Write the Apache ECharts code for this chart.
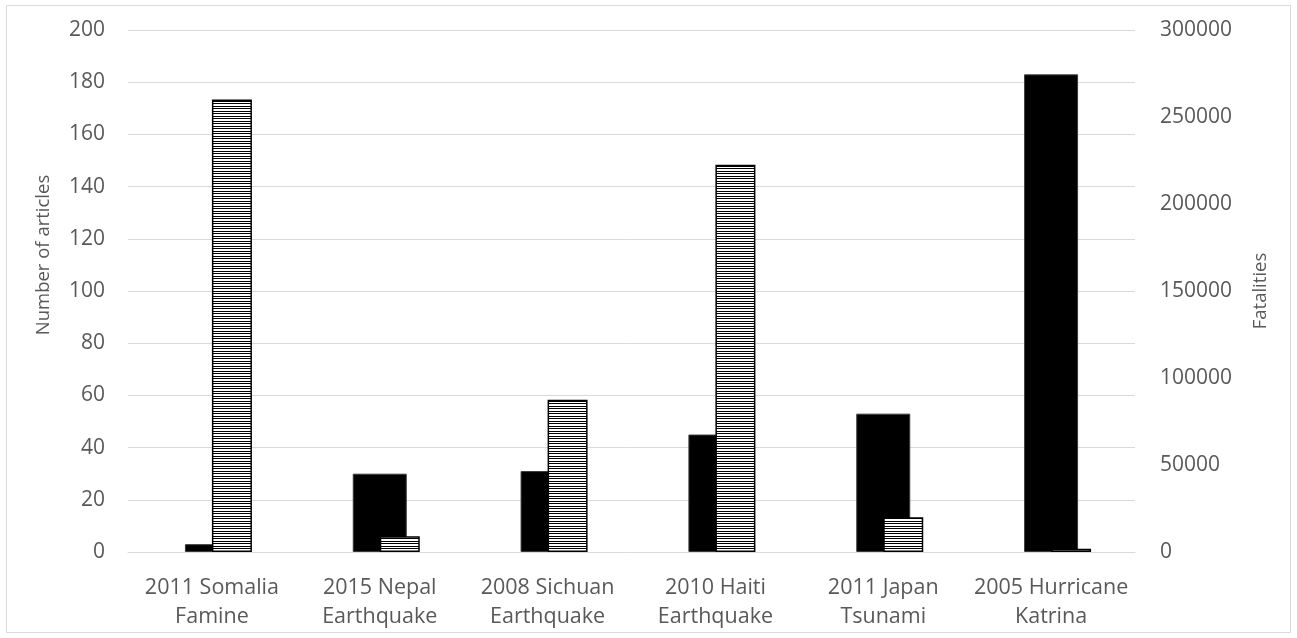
<!DOCTYPE html>
<html>
<head>
<meta charset="utf-8">
<script src="https://cdn.jsdelivr.net/npm/echarts@6/dist/echarts.min.js"></script>
<style>
  html, body { margin: 0; padding: 0; background: #ffffff; }
  #chart { width: 1297px; height: 638px; }
</style>
</head>
<body>
<div id="chart"></div>
<script>
// Disaster events, article counts (left axis) and fatalities (right axis)
const categories = [
  '2011 Somalia\nFamine',
  '2015 Nepal\nEarthquake',
  '2008 Sichuan\nEarthquake',
  '2010 Haiti\nEarthquake',
  '2011 Japan\nTsunami',
  '2005 Hurricane\nKatrina'
];
const articles = [3, 30, 31, 45, 53, 183];
const fatalities = [260000, 9000, 87500, 222500, 20000, 1800];
const articleTicks = { min: 0, max: 200, interval: 20 };
const fatalityTicks = { min: 0, max: 300000, interval: 50000 };

// Horizontal hatch fill for the fatalities bars
function hatchPattern() {
  const c = document.createElement('canvas');
  c.width = 4; c.height = 5;
  const ctx = c.getContext('2d');
  ctx.fillStyle = '#ffffff';
  ctx.fillRect(0, 0, 4, 5);
  ctx.fillStyle = '#000000';
  ctx.fillRect(0, 1, 4, 1);
  ctx.fillRect(0, 3, 4, 1);
  return c;
}

const FONT = '"Open Sans", "Liberation Sans", sans-serif';
const TEXT = '#595959';
const GRID = '#d9d9d9';

const chart = echarts.init(document.getElementById('chart'), null, { renderer: 'canvas' });
chart.setOption({
  animation: false,
  backgroundColor: '#ffffff',
  textStyle: { fontFamily: FONT },
  graphic: [{
    type: 'rect',
    shape: { x: 6.5, y: 5.5, width: 1284, height: 627 },
    style: { fill: 'none', stroke: GRID, lineWidth: 1 },
    silent: true
  }],
  grid: { left: 128, right: 162, top: 30, bottom: 86 },
  xAxis: [{
    type: 'category',
    data: categories,
    axisLine: { lineStyle: { color: GRID, width: 1 } },
    axisTick: { show: false },
    axisLabel: { color: TEXT, fontSize: 21.5, fontFamily: FONT, lineHeight: 29, margin: 21, interval: 0 }
  }, {
    type: 'category',
    data: categories,
    show: false
  }],
  yAxis: [{
    type: 'value',
    min: articleTicks.min, max: articleTicks.max, interval: articleTicks.interval,
    name: 'Number of articles',
    nameLocation: 'middle',
    nameRotate: 90,
    nameGap: 75,
    nameTextStyle: { color: TEXT, fontSize: 18.5, fontFamily: FONT, padding: [0, 0, 0, 72] },
    axisLine: { show: false },
    axisTick: { show: false },
    axisLabel: { color: TEXT, fontSize: 21, fontFamily: FONT, margin: 23 },
    splitLine: { lineStyle: { color: GRID, width: 1 } }
  }, {
    type: 'value',
    position: 'right',
    min: fatalityTicks.min, max: fatalityTicks.max, interval: fatalityTicks.interval,
    name: 'Fatalities',
    nameLocation: 'middle',
    nameRotate: 90,
    nameGap: 116,
    nameTextStyle: { color: TEXT, fontSize: 18.5, fontFamily: FONT },
    axisLine: { show: false },
    axisTick: { show: false },
    axisLabel: { color: TEXT, fontSize: 21, fontFamily: FONT, margin: 25, formatter: v => String(v) },
    splitLine: { show: false }
  }],
  series: [{
    name: 'Number of articles',
    type: 'bar',
    xAxisIndex: 0,
    yAxisIndex: 0,
    barWidth: 54,
    data: articles,
    itemStyle: { color: '#000000', borderColor: '#3a3a3a', borderWidth: 1 }
  }, {
    // empty spacer so the hatched bars sit just right of each category centre
    name: 'spacer',
    type: 'bar',
    xAxisIndex: 1,
    yAxisIndex: 1,
    barWidth: 40,
    barGap: '0%',
    data: categories.map(() => null),
    silent: true
  }, {
    name: 'Fatalities',
    type: 'bar',
    xAxisIndex: 1,
    yAxisIndex: 1,
    barWidth: 40,
    barGap: '0%',
    data: fatalities,
    itemStyle: {
      color: { image: hatchPattern(), repeat: 'repeat' },
      borderColor: '#000000',
      borderWidth: 1.5
    }
  }]
});
</script>
</body>
</html>
